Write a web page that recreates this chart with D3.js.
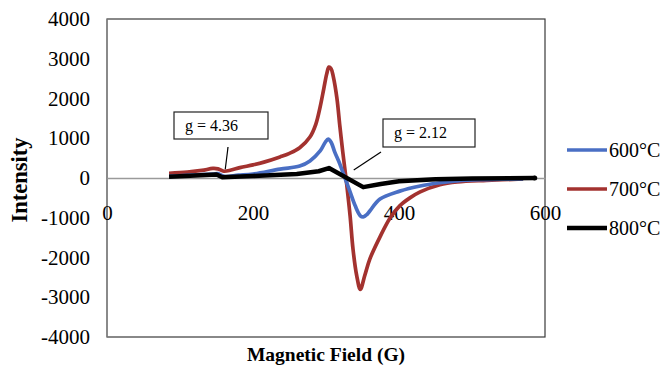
<!DOCTYPE html>
<html>
<head>
<meta charset="utf-8">
<script src="https://cdn.jsdelivr.net/npm/d3@7"></script>
<style>
  html, body { margin: 0; padding: 0; background: #fff; }
  svg { display: block; }
  svg text { font-family: "Liberation Serif", "Times New Roman", serif; }
</style>
</head>
<body>
<svg id="chart" width="663" height="365"></svg>
<script>
// EPR spectra at three annealing temperatures: field (G) vs intensity
const field600 = [85, 145, 152, 160, 180, 200, 237, 264, 278, 292, 299, 303, 307, 312, 319, 326, 333, 340, 347, 351, 356, 360, 374, 401, 429, 456, 480, 520, 570];
const int600   = [40, 100, 110, 40, 70, 100, 225, 300, 430, 680, 900, 980, 900, 650, 350, 0, -350, -700, -950, -980, -920, -830, -530, -330, -200, -120, -70, -40, -20];

const field700 = [85, 110, 130, 145, 152, 160, 170, 182, 200, 215, 237, 250, 264, 278, 286, 292, 297, 301, 304, 307, 310, 315, 319, 323, 328, 333, 337, 342, 347, 353, 360, 374, 388, 401, 415, 429, 456, 480, 520, 570];
const int700   = [120, 150, 190, 240, 230, 170, 200, 260, 330, 400, 530, 620, 760, 1030, 1350, 1790, 2250, 2620, 2790, 2750, 2550, 2000, 1300, 650, -100, -950, -1790, -2450, -2800, -2460, -2040, -1480, -1000, -700, -500, -350, -170, -100, -60, -25];

const field800 = [85, 150, 158, 200, 260, 290, 304, 351, 375, 400, 450, 500, 586];
const int800   = [30, 90, 20, 50, 100, 170, 250, -230, -150, -80, -30, -10, 0];

const seriesNames = ["600°C", "700°C", "800°C"];
const seriesColors = ["#4a6fc4", "#a3322f", "#000000"];

const xTicks = [0, 200, 400, 600];
const yTicks = [4000, 3000, 2000, 1000, 0, -1000, -2000, -3000, -4000];

// g-factor call-outs: label, field and intensity the pointer reaches
const noteLabels = ["g = 4.36", "g = 2.12"];
const noteField  = [162, 338];
const noteInt    = [220, 200];

const svg = d3.select("#chart");
const plot = { left: 107, right: 545, top: 19, bottom: 337 };

const x = d3.scaleLinear().domain([0, 600]).range([plot.left, plot.right]);
const y = d3.scaleLinear().domain([-4000, 4000]).range([plot.bottom, plot.top]);

const serif = '"Liberation Serif", "Times New Roman", serif';

// plot frame
svg.append("rect")
  .attr("x", plot.left).attr("y", plot.top)
  .attr("width", plot.right - plot.left).attr("height", plot.bottom - plot.top)
  .attr("fill", "none").attr("stroke", "#3a3a3a").attr("stroke-width", 1.2);
svg.append("line")
  .attr("x1", plot.left).attr("x2", plot.left)
  .attr("y1", plot.top).attr("y2", plot.bottom)
  .attr("stroke", "#8c8c8c").attr("stroke-width", 1.2);

// y axis labels (no tick marks)
const yAxis = d3.axisLeft(y).tickValues(yTicks).tickSize(0).tickPadding(17).tickFormat(d => String(d));
const gy = svg.append("g").attr("transform", `translate(${plot.left},0)`).call(yAxis);
gy.attr("font-family", null).attr("font-size", null);
gy.select(".domain").remove();
gy.selectAll("text").style("font-family", serif).style("font-size", "21px").attr("fill", "#000");

// x axis along the zero line; labels sit well below it
const xAxis = d3.axisBottom(x).tickValues(xTicks).tickSize(0).tickPadding(27).tickFormat(d => String(d));
const gx = svg.append("g").attr("transform", `translate(0,${y(0)})`).call(xAxis);
gx.attr("font-family", null).attr("font-size", null);
gx.select(".domain").attr("stroke", "#9a9a9a").attr("stroke-width", 1.5);
gx.selectAll("text").style("font-family", serif).style("font-size", "21px").attr("fill", "#000");

// spectra
const smooth = d3.line().x(d => x(d[0])).y(d => y(d[1])).curve(d3.curveCatmullRom.alpha(0.5));
const straight = d3.line().x(d => x(d[0])).y(d => y(d[1]));

const data600 = d3.zip(field600, int600);
const data700 = d3.zip(field700, int700);
const data800 = d3.zip(field800, int800);

svg.append("path").datum(data700).attr("d", smooth)
  .attr("fill", "none").attr("stroke", seriesColors[1]).attr("stroke-width", 3.7).attr("stroke-linejoin", "round");
svg.append("path").datum(data600).attr("d", smooth)
  .attr("fill", "none").attr("stroke", seriesColors[0]).attr("stroke-width", 3.7).attr("stroke-linejoin", "round");
svg.append("path").datum(data800).attr("d", straight)
  .attr("fill", "none").attr("stroke", seriesColors[2]).attr("stroke-width", 4.5).attr("stroke-linejoin", "round");
svg.append("circle").attr("cx", x(field800[field800.length - 1])).attr("cy", y(int800[int800.length - 1]))
  .attr("r", 2.5).attr("fill", "#000");

// call-out boxes with pointers
const boxes = [
  { bx: 174, by: 112, bw: 94, bh: 27, px: 228, py: 147 },
  { bx: 383, by: 119, bw: 92, bh: 28, px: 381, py: 152 }
];
boxes.forEach((b, i) => {
  svg.append("line")
    .attr("x1", b.px).attr("y1", b.py)
    .attr("x2", x(noteField[i])).attr("y2", y(noteInt[i]))
    .attr("stroke", "#000").attr("stroke-width", 1.2);
  svg.append("rect")
    .attr("x", b.bx).attr("y", b.by).attr("width", b.bw).attr("height", b.bh)
    .attr("fill", "#fff").attr("stroke", "#222").attr("stroke-width", 1.2);
  svg.append("text")
    .attr("x", b.bx + 11).attr("y", b.by + b.bh / 2 + 5)
    .style("font-size", "16px").attr("fill", "#000")
    .text(noteLabels[i]);
});

// legend
const legendY = [150, 189, 228];
seriesNames.forEach((name, i) => {
  svg.append("line")
    .attr("x1", 567).attr("x2", 607).attr("y1", legendY[i]).attr("y2", legendY[i])
    .attr("stroke", seriesColors[i]).attr("stroke-width", i === 2 ? 4.5 : 3.7);
  svg.append("text")
    .attr("x", 609).attr("y", legendY[i] + 7)
    .style("font-size", "20px").attr("fill", "#000")
    .text(name);
});

// axis titles
svg.append("text")
  .attr("transform", `translate(27,180) rotate(-90)`)
  .attr("text-anchor", "middle")
  .style("font-size", "22.5px").style("font-weight", "bold").attr("fill", "#000")
  .text("Intensity");
svg.append("text")
  .attr("x", 326).attr("y", 361)
  .attr("text-anchor", "middle")
  .style("font-size", "19.5px").style("font-weight", "bold").attr("fill", "#000")
  .text("Magnetic Field (G)");
</script>
</body>
</html>
